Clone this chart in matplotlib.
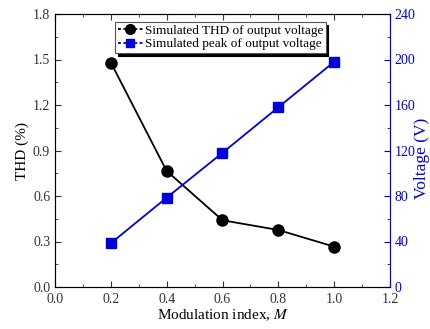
import matplotlib
matplotlib.use("Agg")
import matplotlib.pyplot as plt
from matplotlib.ticker import MultipleLocator
from matplotlib.lines import Line2D

plt.rcParams['font.family'] = ['Liberation Serif', 'DejaVu Serif']
plt.rcParams['mathtext.fontset'] = 'stix'

m = [0.2, 0.4, 0.6, 0.8, 1.0]
thd = [1.48, 0.765, 0.44, 0.376, 0.266]
volt = [38.5, 78.5, 118, 158, 198]
labels = ['Simulated THD of output voltage', 'Simulated peak of output voltage']

blue = '#0000dd'
fig = plt.figure(figsize=(4.31, 3.29), dpi=100)
ax = fig.add_axes([55/431, 1-287/329, 335/431, 273/329])
ax2 = ax.twinx()

ax.plot(m, thd, '-o', color='black', lw=1.3, ms=8)
ax2.plot(m, volt, '-s', color=blue, mfc=blue, mec=blue, lw=1.3, ms=7)

h1 = Line2D([], [], color='black', lw=1.3, ls=(0, (1.6, 1.4)), marker='o', ms=7)
h2 = Line2D([], [], color=blue, lw=1.3, ls=(0, (1.6, 1.4)), marker='s', ms=6)

ax.set_xlim(0, 1.2)
ax.set_ylim(0, 1.8)
ax2.set_ylim(0, 240)
ax.xaxis.set_major_locator(MultipleLocator(0.2))
ax.xaxis.set_minor_locator(MultipleLocator(0.1))
ax.yaxis.set_major_locator(MultipleLocator(0.3))
ax.yaxis.set_minor_locator(MultipleLocator(0.15))
ax2.yaxis.set_major_locator(MultipleLocator(40))
ax2.yaxis.set_minor_locator(MultipleLocator(20))
ax.xaxis.set_major_formatter(plt.FormatStrFormatter('%.1f'))
ax.yaxis.set_major_formatter(plt.FormatStrFormatter('%.1f'))

ax.tick_params(which='both', direction='in', top=True, labelsize=10, colors='#333333')
ax.tick_params(which='major', length=4)
ax.tick_params(which='minor', length=2)
ax.tick_params(axis='x', pad=4)
ax2.tick_params(which='both', direction='in', colors=blue, labelsize=10)
ax2.tick_params(which='major', length=4)
ax2.tick_params(which='minor', length=2)
ax2.spines['right'].set_color(blue)
for s in ['left', 'top', 'bottom']:
    ax.spines[s].set_color('#333333')

ax.set_xlabel('Modulation index, $M$', fontsize=11, labelpad=1)
ax.set_ylabel('THD (%)', fontsize=11, labelpad=3)
ax2.set_ylabel('Voltage (V)', fontsize=12.5, color=blue)
ax2.yaxis.set_label_coords(1.072, 0.47)

leg = ax.legend(handles=[h1, h2], labels=labels, loc='upper left',
                bbox_to_anchor=(60/335, 1 - 8/273),
                fontsize=9.5, frameon=True, fancybox=False,
                shadow={'color': 'black', 'alpha': 1.0},
                handlelength=1.9, handletextpad=0.15, borderpad=0.2,
                labelspacing=0.1, borderaxespad=0)
leg.get_frame().set_edgecolor('#555555')
leg.get_frame().set_linewidth(0.8)

fig.savefig('out.png', dpi=100)
